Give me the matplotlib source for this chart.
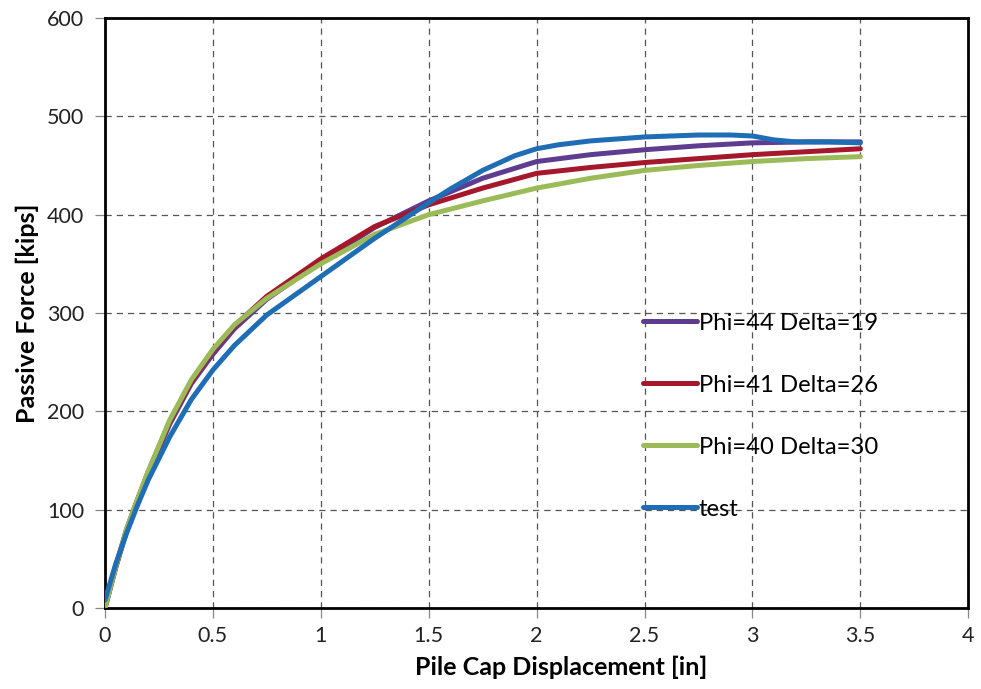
import matplotlib
matplotlib.use("Agg")
import matplotlib.pyplot as plt

# Displacement steps for the model curves [in]
disp_model = [0, 0.05, 0.1, 0.15, 0.2, 0.3, 0.4, 0.5, 0.6, 0.75, 1.0, 1.25,
              1.5, 1.75, 2.0, 2.25, 2.5, 2.75, 3.0, 3.25, 3.5]
# Passive force [kips] for each friction / wall-friction angle pair
force_phi44 = [0, 41, 78, 108, 136, 187, 228, 258, 284, 314, 352, 387,
               414, 437, 454, 461, 466, 470, 473, 474, 474]
force_phi41 = [0, 42, 80, 110, 138, 190, 230, 262, 287, 317, 355, 388,
               410, 427, 442, 448, 453, 457, 461, 464, 467]
force_phi40 = [0, 42, 80, 110, 139, 191, 232, 263, 288, 315, 350, 380,
               400, 414, 427, 437, 445, 450, 454, 457, 459]

# Measured load test
disp_test = [0, 0.05, 0.1, 0.15, 0.2, 0.3, 0.4, 0.5, 0.6, 0.75, 1.0, 1.25,
             1.5, 1.6, 1.75, 1.9, 2.0, 2.1, 2.25, 2.5, 2.75, 2.9, 3.0, 3.1,
             3.2, 3.35, 3.5]
force_test = [8, 45, 76, 104, 130, 174, 212, 242, 267, 298, 337, 376,
              412, 426, 445, 460, 467, 471, 475, 479, 481, 481, 480, 476,
              474, 474, 473]

series_labels = ["Phi=44 Delta=19", "Phi=41 Delta=26", "Phi=40 Delta=30", "test"]
series_colors = ["#5E3C8F", "#A5172B", "#9BBB59", "#1F6DB5"]

x_ticks = [0, 0.5, 1, 1.5, 2, 2.5, 3, 3.5, 4]
x_tick_labels = ["0", "0.5", "1", "1.5", "2", "2.5", "3", "3.5", "4"]
y_ticks = [0, 100, 200, 300, 400, 500, 600]

plt.rcParams["font.family"] = ["Lato", "DejaVu Sans"]

fig = plt.figure(figsize=(9.81, 6.89), dpi=100)
ax = fig.add_axes([0.107, 0.1176, 0.880, 0.8563])

lw = 3.6
ax.plot(disp_model, force_phi44, color=series_colors[0], lw=lw,
        label=series_labels[0], solid_capstyle="round", zorder=3)
ax.plot(disp_model, force_phi41, color=series_colors[1], lw=lw,
        label=series_labels[1], solid_capstyle="round", zorder=3)
ax.plot(disp_model, force_phi40, color=series_colors[2], lw=lw,
        label=series_labels[2], solid_capstyle="round", zorder=3)
ax.plot(disp_test, force_test, color=series_colors[3], lw=lw,
        label=series_labels[3], solid_capstyle="round", zorder=4)

ax.set_xlim(0, 4)
ax.set_ylim(0, 600)
ax.set_xticks(x_ticks)
ax.set_xticklabels(x_tick_labels)
ax.set_yticks(y_ticks)

ax.grid(True, color="#555555", linestyle=(0, (5, 4)), linewidth=0.9)
ax.set_axisbelow(True)
for sp in ax.spines.values():
    sp.set_linewidth(2.0)
    sp.set_color("black")

ax.tick_params(axis="both", direction="out", length=7, width=0.9,
               color="#888888", labelsize=15.5, labelcolor="#222222")
ax.tick_params(axis="x", pad=6)
ax.tick_params(axis="y", pad=8)

ax.set_xlabel("Pile Cap Displacement [in]", fontsize=18, fontweight="bold")
ax.xaxis.set_label_coords(0.528, -0.080)
ax.set_ylabel("Passive Force [kips]", fontsize=18, fontweight="bold",
              labelpad=6)

leg = ax.legend(loc="upper left", bbox_to_anchor=(0.612, 0.517),
                frameon=False, fontsize=17.2, handlelength=2.25,
                handletextpad=0.08, labelspacing=1.72, borderaxespad=0)

fig.savefig("out.png", dpi=100)
